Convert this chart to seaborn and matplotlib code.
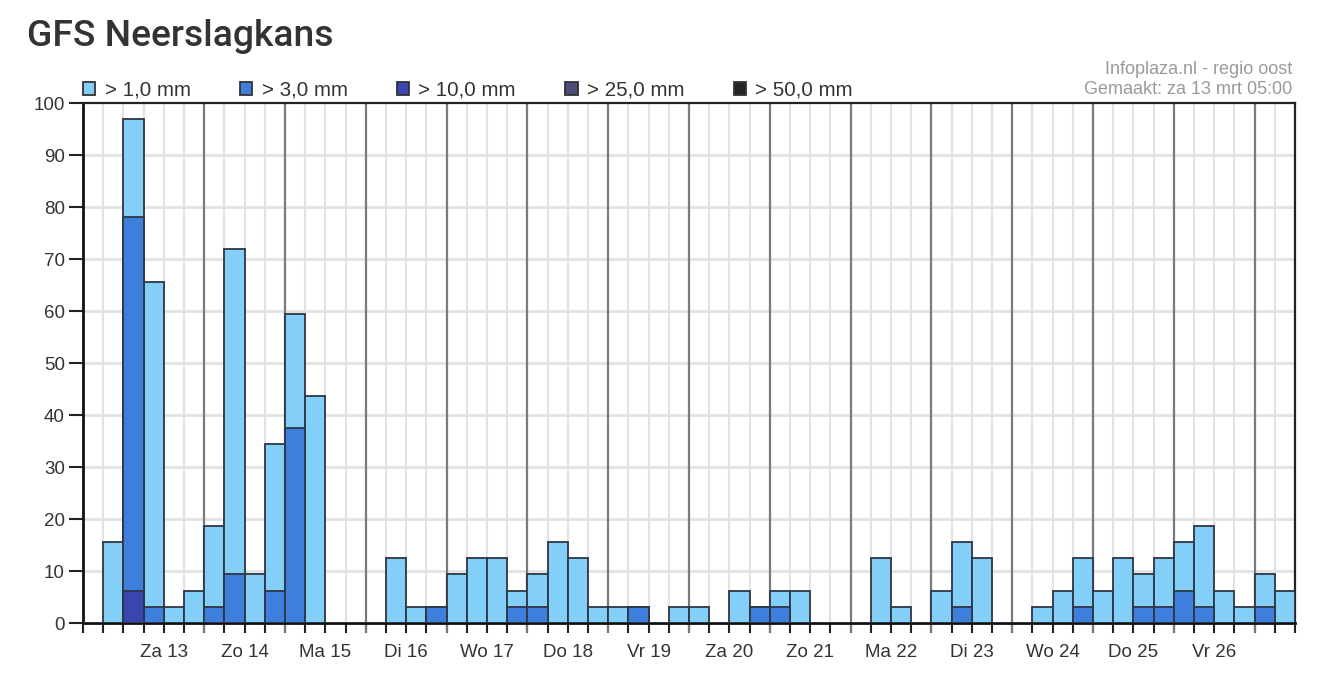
import numpy as np
import pandas as pd
import matplotlib.pyplot as plt
from matplotlib.patches import Patch
import seaborn as sns

# 6-hourly slots (4 per day), probabilities in %
slots = list(range(60))
p_1mm = [0, 15.6, 96.9, 65.6, 3.1, 6.25, 18.75, 71.9, 9.4, 34.4,
         59.4, 43.75, 0, 0, 0, 12.5, 3.1, 3.1, 9.4, 12.5,
         12.5, 6.25, 9.4, 15.6, 12.5, 3.1, 3.1, 3.1, 0, 3.1,
         3.1, 0, 6.25, 3.1, 6.25, 6.25, 0, 0, 0, 12.5,
         3.1, 0, 6.25, 15.6, 12.5, 0, 0, 3.1, 6.25, 12.5,
         6.25, 12.5, 9.4, 12.5, 15.6, 18.75, 6.25, 3.1, 9.4, 6.25]
p_3mm = [0, 0, 78.1, 3.1, 0, 0, 3.1, 9.4, 0, 6.25,
         37.5, 0, 0, 0, 0, 0, 0, 3.1, 0, 0,
         0, 3.1, 3.1, 0, 0, 0, 0, 3.1, 0, 0,
         0, 0, 0, 3.1, 3.1, 0, 0, 0, 0, 0,
         0, 0, 0, 3.1, 0, 0, 0, 0, 0, 3.1,
         0, 0, 3.1, 3.1, 6.25, 3.1, 0, 0, 3.1, 0]
p_10mm = [0, 0, 6.25] + [0] * 57

day_labels = ["Za 13", "Zo 14", "Ma 15", "Di 16", "Wo 17", "Do 18", "Vr 19",
              "Za 20", "Zo 21", "Ma 22", "Di 23", "Wo 24", "Do 25", "Vr 26"]
legend_labels = ["> 1,0 mm", "> 3,0 mm", "> 10,0 mm", "> 25,0 mm", "> 50,0 mm"]
legend_colors = ["#84cff8", "#3f7fdc", "#3a46b0", "#4d4d7a", "#262626"]

df = pd.DataFrame({"slot": slots, "p1": p_1mm, "p3": p_3mm, "p10": p_10mm})
df["center"] = df["slot"] + 0.5

sns.set_theme(style="white")
plt.rcParams["font.family"] = ["Liberation Sans", "DejaVu Sans"]

fig = plt.figure(figsize=(13.36, 6.81), dpi=100)
ax = fig.add_axes([83 / 1336, 58 / 681, 1212 / 1336, 520 / 681])

edge = "#2e3644"
for col, color in zip(["p1", "p3", "p10"], legend_colors):
    sns.barplot(data=df, x="center", y=col, native_scale=True, width=1,
                color=color, saturation=1, edgecolor=edge, linewidth=1.3,
                errorbar=None, ax=ax, zorder=3)

ax.set_xlim(0, 60)
ax.set_ylim(0, 100)
ax.set_xlabel("")
ax.set_ylabel("")

# grid
for y in range(10, 100, 10):
    ax.axhline(y, color="#e2e2e2", lw=2, zorder=1)
day_lines = list(range(6, 60, 4))
for x in range(1, 60):
    if x not in day_lines:
        ax.axvline(x, color="#e2e2e2", lw=1.5, zorder=1)
for x in day_lines:
    ax.axvline(x, ymin=-0.018, ymax=1, color="#7a7a7a", lw=1.6, zorder=2,
               clip_on=False)

ax.set_yticks(range(0, 101, 10))
ax.set_xticks(range(4, 60, 4))
ax.set_xticklabels(day_labels)
ax.set_xticks(range(0, 61), minor=True)
ax.tick_params(axis="y", direction="out", length=10, width=1.5, color="#222",
               labelsize=13.5, pad=3, left=True)
ax.tick_params(axis="x", which="both", direction="out", length=7, width=1.5,
               color="#222", labelsize=13.5, pad=8, bottom=True)
for lbl in ax.get_xticklabels() + ax.get_yticklabels():
    lbl.set_color("#333333")

for side in ["left", "bottom"]:
    ax.spines[side].set_color("#111")
    ax.spines[side].set_linewidth(2)
for side in ["top", "right"]:
    ax.spines[side].set_color("#222")
    ax.spines[side].set_linewidth(1.6)

handles = [Patch(facecolor=c, edgecolor="#333", lw=1.3) for c in legend_colors]
leg = ax.legend(handles, legend_labels, ncol=5, loc="lower left",
                bbox_to_anchor=(0.0, 1.006), frameon=False, fontsize=14.8,
                handlelength=0.6, handleheight=0.6, handletextpad=0.45,
                columnspacing=2.4, borderpad=0, borderaxespad=0)
for t in leg.get_texts():
    t.set_color("#333333")

fig.text(27 / 1336, 1 - 36 / 681, "GFS Neerslagkans", fontsize=26.8,
         family=["Roboto", "DejaVu Sans"], fontweight="medium",
         color="#333333", va="center", ha="left")
fig.text(1292 / 1336, 1 - 70 / 681, "Infoplaza.nl - regio oost",
         fontsize=13, color="#9a9a9a", ha="right", va="center")
fig.text(1292 / 1336, 1 - 90 / 681, "Gemaakt: za 13 mrt 05:00",
         fontsize=13, color="#9a9a9a", ha="right", va="center")

fig.savefig("out.png", dpi=100)
